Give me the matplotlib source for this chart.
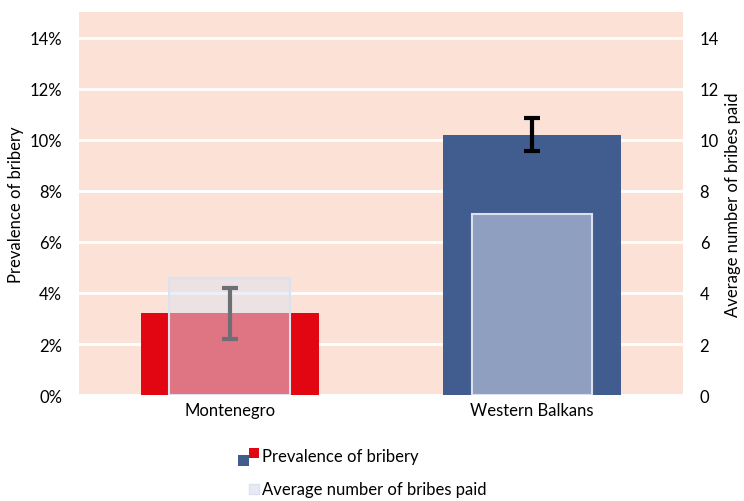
import matplotlib
matplotlib.use("Agg")
import matplotlib.pyplot as plt
from matplotlib.patches import Rectangle
from matplotlib.legend_handler import HandlerBase
import numpy as np

categories = ["Montenegro", "Western Balkans"]
prevalence = [0.032, 0.102]
prevalence_err = [0.010, 0.0065]
avg_bribes = [4.6, 7.1]
left_ticks = [0, 0.02, 0.04, 0.06, 0.08, 0.10, 0.12, 0.14]
right_ticks = [0, 2, 4, 6, 8, 10, 12, 14]

bar_colors = ["#E20613", "#415C8F"]
err_colors = ["#6E6E75", "#000000"]

plt.rcParams['font.family'] = ['Lato', 'DejaVu Sans']
FS = 12

fig = plt.figure(figsize=(7.44, 5.02), dpi=100)
ax = fig.add_axes([0.106, 0.211, 0.812, 0.763])
ax.set_facecolor("#FCE1D6")
x = np.arange(len(categories))

ax.set_ylim(0, 0.15)
ax.set_xlim(-0.5, 1.5)
ax.set_yticks(left_ticks)
ax.set_yticklabels([f"{int(round(t*100))}%" for t in left_ticks])
ax.grid(axis='y', color='white', linewidth=2)
ax.set_axisbelow(True)
for s in ax.spines.values():
    s.set_visible(False)
ax.tick_params(length=0, labelsize=FS, colors='#000000')
ax.tick_params(axis='y', pad=12)
ax.tick_params(axis='x', pad=5)
ax.set_xticks(x)
ax.set_xticklabels(categories)
ax.set_ylabel("Prevalence of bribery", fontsize=FS)
ax.yaxis.set_label_coords(-0.09, 0.5)

ax.bar(x, prevalence, width=0.59, color=bar_colors, zorder=2)

ax2 = ax.twinx()
ax2.set_ylim(0, 15)
ax2.set_yticks(right_ticks)
for s in ax2.spines.values():
    s.set_visible(False)
ax2.tick_params(length=0, labelsize=FS, pad=12)
ax2.set_ylabel("Average number of bribes paid", fontsize=FS)
ax2.yaxis.set_label_coords(1.069, 0.5)
ax2.bar(x, avg_bribes, width=0.40, color=(222/255, 226/255, 241/255, 0.5),
        edgecolor="#DCE1F0", linewidth=1.5, zorder=3)

# error bars on prevalence, drawn above light bars, in left axis units
for i in range(len(categories)):
    ax2.errorbar(x[i], prevalence[i] * 100, yerr=prevalence_err[i] * 100,
                 fmt='none', ecolor=err_colors[i], elinewidth=3, capsize=6,
                 capthick=3, zorder=5)


class DoubleSquare(HandlerBase):
    def create_artists(self, legend, orig_handle, xdescent, ydescent, width,
                       height, fontsize, trans):
        s = height * 0.9
        r1 = Rectangle((width - 2 * s - xdescent, -ydescent - s * 0.4), s, s,
                       facecolor=bar_colors[1], transform=trans)
        r2 = Rectangle((width - s - xdescent, -ydescent + s * 0.3), s, s,
                       facecolor=bar_colors[0], transform=trans)
        return [r1, r2]


class LightSquare(HandlerBase):
    def create_artists(self, legend, orig_handle, xdescent, ydescent, width,
                       height, fontsize, trans):
        s = height * 0.9
        r = Rectangle((width - s - xdescent, -ydescent), s, s,
                      facecolor="#E8E9F3", edgecolor="#DCE1F0", transform=trans)
        return [r]


h1 = Rectangle((0, 0), 1, 1)
h2 = Rectangle((0, 0), 1, 1)
fig.legend([h1, h2], ["Prevalence of bribery", "Average number of bribes paid"],
           handler_map={h1: DoubleSquare(), h2: LightSquare()},
           loc='upper left', bbox_to_anchor=(0.308, 0.118), frameon=False,
           fontsize=FS, handlelength=1.4, handletextpad=0.15, labelspacing=1.0,
           borderaxespad=0)

fig.savefig("out.png", dpi=100)
